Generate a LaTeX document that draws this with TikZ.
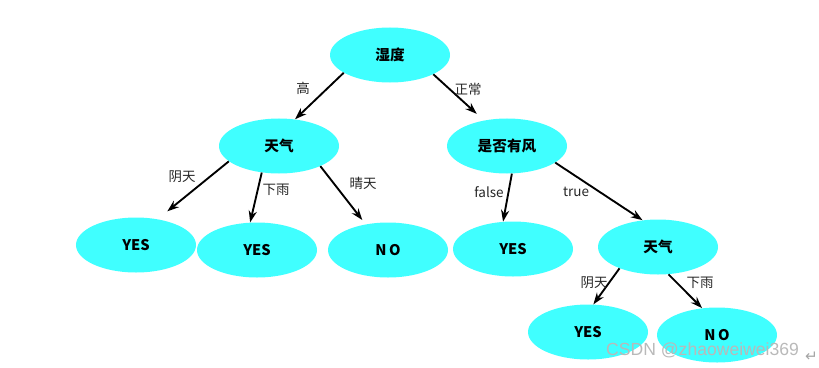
\documentclass[tikz,border=0pt]{standalone}
\usepackage{fontspec}
\setmainfont{Noto Sans CJK SC}
\newfontfamily\wmfont{Liberation Sans}
\newfontfamily\symfont{DejaVu Sans}
\usetikzlibrary{arrows.meta,shapes.geometric}
\definecolor{nodecyan}{RGB}{64,255,255}

\begin{document}
\begin{tikzpicture}[x=0.03cm, y=-0.03cm, >={Stealth[length=10pt,width=7pt]}]
        \tikzset{tnode/.style={ellipse, fill=nodecyan, minimum width=3.6cm, minimum height=1.65cm, inner sep=0pt, font=\fontsize{12.5}{14}\selectfont\bfseries},
                 lbl/.style={font=\fontsize{11.5}{14}\selectfont, inner sep=1pt, text=black!85},
                 arr/.style={->, line width=1.6pt}}
        \useasboundingbox (0,0) rectangle (819,367);
        % tree nodes
        \node[tnode] (hum) at (390,55) {湿度};
        \node[tnode] (w1) at (279,146) {天气};
        \node[tnode] (wind) at (507,146) {是否有风};
        \node[tnode] (yes1) at (136,245) {YES};
        \node[tnode] (yes2) at (257,250) {YES};
        \node[tnode] (no1) at (388,250) {N\,O};
        \node[tnode] (yes3) at (513,249) {YES};
        \node[tnode] (w2) at (658,247) {天气};
        \node[tnode] (yes4) at (588,332) {YES};
        \node[tnode] (no2) at (717,335) {N\,O};
        % branches
        \draw[arr] (hum.201) -- (w1.59);
        \draw[arr, shorten >=0.29cm] (hum.336) -- (wind.132);
        \draw[arr, shorten >=0.37cm] (w1.197) -- (yes1.50);
        \draw[arr] (w1.237) -- (yes2.104);
        \draw[arr, shorten >=0.16cm] (w1.334) -- (no1.131);
        \draw[arr] (wind.280) -- (yes3.110);
        \draw[arr] (wind.341) -- (w2.120);
        \draw[arr] (w2.209) -- (yes4.79);
        \draw[arr] (w2.291) -- (no2.119);
        % branch labels
        \node[lbl] (l1) at (303,88) {高};
        \node[lbl] (l2) at (468,89) {正常};
        \node[lbl] (l3) at (182,177) {阴天};
        \node[lbl] (l4) at (276,190) {下雨};
        \node[lbl] (l5) at (363,183) {晴天};
        \node[lbl] (l6) at (489,192) {false};
        \node[lbl] (l7) at (576,192) {true};
        \node[lbl] (l8) at (594,283) {阴天};
        \node[lbl] (l9) at (700,283) {下雨};
        % watermark
        \node[anchor=west, inner sep=0pt, text=gray!55, font=\wmfont\fontsize{15}{17}\selectfont] (wm) at (606,350) {CSDN @zhaoweiwei369};
        \node[anchor=west, inner sep=0pt, text=gray!70, font=\symfont\fontsize{13}{15}\selectfont] (ret) at (805,357) {↵};
\end{tikzpicture}
\end{document}
